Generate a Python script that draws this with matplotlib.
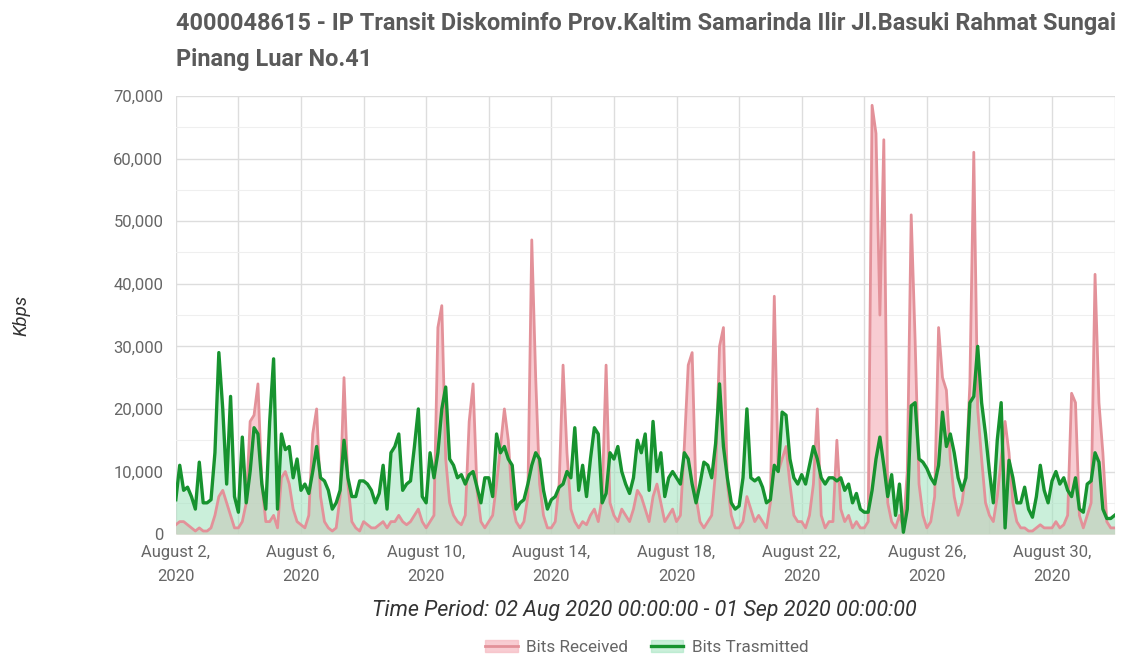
import matplotlib
matplotlib.use("Agg")
import matplotlib.pyplot as plt
import matplotlib.dates as mdates
from matplotlib.ticker import MultipleLocator, FuncFormatter
from matplotlib.lines import Line2D
from matplotlib.patches import Patch
import numpy as np
import pandas as pd

plt.rcParams['font.family'] = ['Roboto', 'DejaVu Sans']

# 3-hourly samples, 02 Aug 2020 00:00 .. 01 Sep 2020 00:00, values in thousands of Kbps
# one row per day (8 samples), plus the final point
tx_k = [
    5.5, 11, 7, 7.5, 6, 4, 11.5, 5,        # Aug 2
    5, 5.5, 13, 29, 20, 8, 22, 6,          # Aug 3
    3.5, 15.5, 5, 10, 17, 16, 8, 4,        # Aug 4
    18, 28, 4, 16, 13.5, 14, 9, 12,        # Aug 5
    7, 8, 6.5, 10, 14, 9, 8.5, 7,          # Aug 6
    4, 5, 7, 15, 9, 6, 6, 8.5,             # Aug 7
    8.5, 8, 7, 5, 6.5, 11, 4, 13,          # Aug 8
    14, 16, 7, 8, 8.5, 14, 20, 6,          # Aug 9
    5, 13, 9, 13, 20, 23.5, 12, 11,        # Aug 10
    9, 9.5, 8, 9.5, 10, 7.5, 5, 9,         # Aug 11
    9, 6, 16, 13, 14, 12, 11, 4,           # Aug 12
    5, 5.5, 8, 11, 13, 12, 7, 4,           # Aug 13
    5.5, 6, 7.5, 8, 10, 9, 17, 7,          # Aug 14
    11, 6, 12, 17, 16, 5, 6.5, 13,         # Aug 15
    12, 14, 10, 8, 6.5, 9, 15, 13,         # Aug 16
    16, 7, 18, 10, 13, 6, 9, 10,           # Aug 17
    9, 8, 13, 12, 8, 5, 8, 11.5,           # Aug 18
    11, 9, 14.5, 24, 14, 9, 5, 4,          # Aug 19
    4.5, 9, 20, 9, 8.5, 9, 7.5, 5,         # Aug 20
    5.5, 11, 10, 19.5, 19, 12, 9, 8,       # Aug 21
    9.5, 8, 11, 14, 12, 9, 8, 9,           # Aug 22
    9, 8.5, 9, 7, 8, 5, 6.5, 4,            # Aug 23
    3.5, 3.5, 7, 12, 15.5, 11, 6, 9.5,     # Aug 24
    3, 8, 0.3, 4, 20.5, 21, 12, 11.5,      # Aug 25
    10.5, 9, 8, 11, 19.5, 14, 16, 13,      # Aug 26
    9, 7, 9, 21, 22, 30, 21, 16,           # Aug 27
    10, 5, 15, 21, 1, 11.8, 9, 5,          # Aug 28
    5, 7.5, 4, 2.7, 6, 11, 7, 5,           # Aug 29
    8.5, 10, 8, 9, 7, 6, 9, 4,             # Aug 30
    3.5, 8, 8.5, 13, 11.5, 4, 2.5, 2.5,    # Aug 31
    3,
]

rx_k = [
    1.5, 2, 2, 1.5, 1, 0.5, 1, 0.5,        # Aug 2
    0.5, 1, 3, 6, 7, 5, 3, 1,              # Aug 3
    1, 2, 5, 18, 19, 24, 8, 2,             # Aug 4
    2, 3, 1, 9, 10, 8, 4, 2,               # Aug 5
    1.5, 1, 3, 16, 20, 6, 2, 1,            # Aug 6
    0.5, 1, 6, 25, 8, 2, 1, 0.5,           # Aug 7
    2, 1.5, 1, 1, 1.5, 2, 1, 2,            # Aug 8
    2, 3, 2, 1.5, 2, 3, 4, 2,              # Aug 9
    1, 2, 3, 33, 36.5, 12, 5, 3,           # Aug 10
    2, 1.5, 3, 18, 24, 7, 2, 1,            # Aug 11
    2, 3, 8, 14, 20, 15, 5, 2,             # Aug 12
    1, 2, 6, 47, 25, 8, 3, 1,              # Aug 13
    1, 2, 8, 27, 13, 4, 2, 1,              # Aug 14
    2, 1.5, 3, 4, 2, 6, 27, 5,             # Aug 15
    3, 2, 4, 3, 2, 4, 7, 6,                # Aug 16
    4, 2, 6, 8, 5, 2, 3, 4,                # Aug 17
    2, 3, 14, 27, 29, 6, 2, 1,             # Aug 18
    2, 3, 10, 30, 33, 8, 3, 1,             # Aug 19
    1, 2, 6, 4, 2, 3, 2, 1,                # Aug 20
    5, 38, 10, 12, 14, 8, 3, 2,            # Aug 21
    2, 1, 3, 8, 20, 3, 1, 2,               # Aug 22
    2, 15, 4, 2, 3, 1, 2, 1,               # Aug 23
    1, 2, 68.5, 64, 35, 63, 5, 2,          # Aug 24
    1, 3, 1, 10, 51, 31, 8, 3,             # Aug 25
    1, 2, 6, 33, 25, 23, 12, 6,            # Aug 26
    3, 5, 10, 24, 61, 20, 12, 5,           # Aug 27
    3, 2, 6, 12, 18, 13, 5, 2,             # Aug 28
    1, 1, 0.5, 0.5, 1, 1.5, 1, 1,          # Aug 29
    1, 2, 1, 1.5, 3, 22.5, 21, 3,          # Aug 30
    1, 3, 5, 41.5, 21, 13, 2, 1,           # Aug 31
    1,
]

title = ("4000048615 - IP Transit Diskominfo Prov.Kaltim Samarinda Ilir Jl.Basuki Rahmat Sungai\n"
         "Pinang Luar No.41")
period = "Time Period: 02 Aug 2020 00:00:00 - 01 Sep 2020 00:00:00"

times = pd.date_range("2020-08-02", periods=len(tx_k), freq="3h")
tx = np.array(tx_k) * 1000
rx = np.array(rx_k) * 1000

red_line = "#e39199"
red_fill = "#f6bcc3"
green_line = "#17932f"
green_fill = "#9fe3bd"

fig = plt.figure(figsize=(11.27, 6.57), dpi=100)
ax = fig.add_axes([0.156, 0.187, 0.833, 0.667])

ax.fill_between(times, rx, color=red_fill, alpha=0.75, lw=0)
ax.fill_between(times, tx, color=green_fill, alpha=0.55, lw=0)
ax.plot(times, rx, color=red_line, lw=2)
ax.plot(times, tx, color=green_line, lw=2.4)

ax.set_xlim(times[0], times[-1])
ax.set_ylim(0, 70000)

ax.yaxis.set_major_locator(MultipleLocator(10000))
ax.yaxis.set_minor_locator(MultipleLocator(5000))
ax.yaxis.set_major_formatter(FuncFormatter(lambda v, p: f"{int(v):,}"))
ax.xaxis.set_major_locator(mdates.DayLocator(bymonthday=[2, 6, 10, 14, 18, 22, 26, 30]))
ax.xaxis.set_minor_locator(mdates.DayLocator(interval=2))
ax.xaxis.set_major_formatter(FuncFormatter(
    lambda v, p: mdates.num2date(v).strftime("August %-d,\n%Y")))

ax.grid(True, which="major", color="#dddddd", lw=1)
ax.grid(True, which="minor", axis="y", color="#efefef", lw=0.8)
ax.grid(True, which="minor", axis="x", color="#dddddd", lw=1)
ax.set_axisbelow(True)
for s in ax.spines.values():
    s.set_visible(False)
ax.tick_params(which="both", length=0, labelsize=12, labelcolor="#666666")
ax.tick_params(axis="y", pad=9)
ax.tick_params(axis="x", pad=8)

for lab in ax.get_xticklabels():
    lab.set_ha("center")
    lab.set_multialignment("center")
    lab.set_linespacing(1.75)

ax.set_ylabel("Kbps", fontstyle="italic", fontsize=13.5, color="#333333")
ax.yaxis.set_label_coords(-0.155, 0.5)

fig.text(0.572, 0.0715, period, ha="center", va="center", fontstyle="italic",
         fontsize=15.5, color="#333333")

fig.text(0.156, 0.981, title, ha="left", va="top", fontsize=16.9, fontweight="bold",
         color="#5a5a5a", linespacing=1.7)

handles = [
    (Patch(color=red_fill, alpha=0.75), Line2D([], [], color=red_line, lw=2)),
    (Patch(color=green_fill, alpha=0.55), Line2D([], [], color=green_line, lw=2.4)),
]
fig.legend(handles, ["Bits Received", "Bits Trasmitted"], loc="center",
           bbox_to_anchor=(0.574, 0.015), ncol=2, frameon=False, fontsize=12.3,
           labelcolor="#666666", handlelength=1.9, columnspacing=1.3, handletextpad=0.5,
           borderpad=0.1)

fig.savefig("out.png", dpi=100)
